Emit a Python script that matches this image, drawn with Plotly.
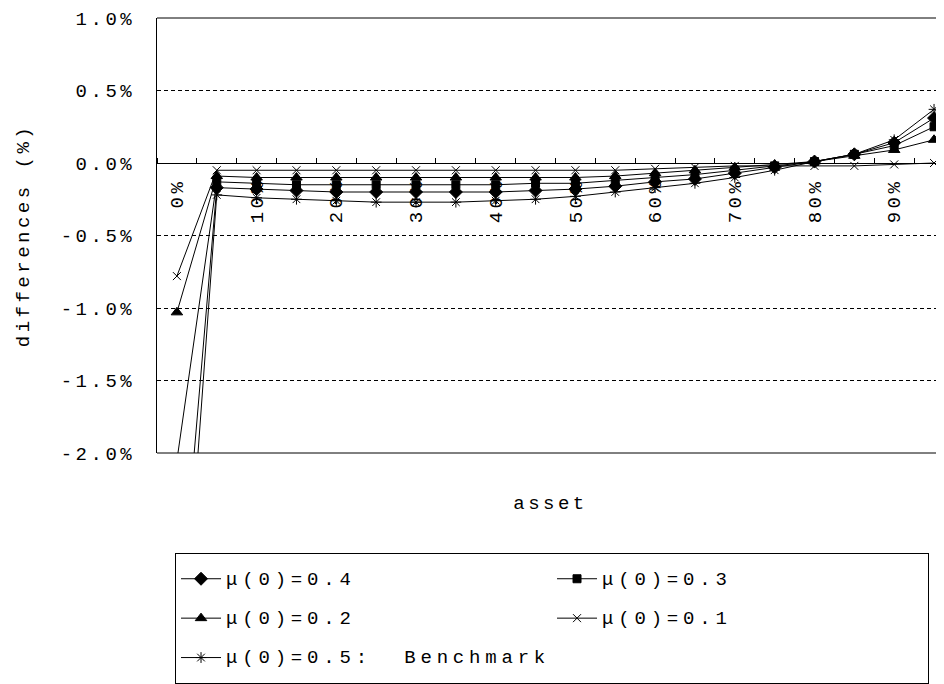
import plotly.graph_objects as go

categories = ["0%", "5%", "10%", "15%", "20%", "25%", "30%", "35%", "40%", "45%",
              "50%", "55%", "60%", "65%", "70%", "75%", "80%", "85%", "90%", "95%"]

mu04 = [-3.40, -0.17, -0.18, -0.19, -0.20, -0.20, -0.20, -0.20, -0.20, -0.19,
        -0.18, -0.16, -0.13, -0.11, -0.07, -0.03, 0.01, 0.06, 0.14, 0.31]
mu03 = [-2.05, -0.13, -0.14, -0.15, -0.15, -0.15, -0.15, -0.15, -0.15, -0.14,
        -0.14, -0.12, -0.10, -0.08, -0.05, -0.02, 0.01, 0.06, 0.12, 0.25]
mu02 = [-1.03, -0.09, -0.10, -0.10, -0.10, -0.10, -0.10, -0.10, -0.10, -0.10,
        -0.10, -0.09, -0.07, -0.05, -0.03, -0.01, 0.01, 0.05, 0.09, 0.16]
mu01 = [-0.78, -0.05, -0.05, -0.05, -0.05, -0.05, -0.05, -0.05, -0.05, -0.05,
        -0.05, -0.05, -0.04, -0.03, -0.02, -0.02, -0.02, -0.02, -0.01, 0.00]
mu05 = [-4.00, -0.22, -0.24, -0.25, -0.26, -0.27, -0.27, -0.27, -0.26, -0.25,
        -0.23, -0.20, -0.17, -0.14, -0.10, -0.05, 0.01, 0.06, 0.16, 0.37]

series_names = ["μ(0)=0.4", "μ(0)=0.3", "μ(0)=0.2", "μ(0)=0.1", "μ(0)=0.5:  Benchmark"]
series_values = [mu04, mu03, mu02, mu01, mu05]
symbols = ["diamond", "square", "triangle-up", "x-thin-open", "asterisk-open"]
sizes = [10, 8, 10, 8, 9]

y_tickvals = [-2.0, -1.5, -1.0, -0.5, 0.0, 0.5, 1.0]
y_ticktext = ["-2.0%", "-1.5%", "-1.0%", "-0.5%", "0.0%", "0.5%", "1.0%"]

FONT = "Liberation Mono"


def sp(t, extra="", ls=3.5):
    return f'<span style="letter-spacing:{ls}px{extra}">{t}</span>'


xs = list(range(len(categories)))

fig = go.Figure()
for name, vals, sym, sz in zip(series_names, series_values, symbols, sizes):
    fig.add_trace(go.Scatter(
        x=xs, y=vals, mode="lines+markers",
        name=sp(name, ";font-size:19px;baseline-shift:5px", ls=4.8),
        line=dict(color="black", width=1),
        marker=dict(symbol=sym, size=sz, color="black",
                    line=dict(color="black", width=1)),
        cliponaxis=True,
    ))

fig.update_layout(
    width=944, height=684,
    margin=dict(l=149, r=8, t=10, b=239, autoexpand=False),
    paper_bgcolor="white", plot_bgcolor="white",
    font=dict(family=FONT, size=19, color="black"),
    showlegend=True,
    legend=dict(
        orientation="h",
        x=0.0229, xanchor="left",
        y=-0.230, yanchor="top",
        entrywidth=321, entrywidthmode="pixels",
        bordercolor="black", borderwidth=1, bgcolor="white",
        font=dict(family=FONT, size=28, color="black"),
        itemwidth=40,
    ),
    xaxis=dict(
        range=[-0.5, 19.25],
        tickmode="array",
        tickvals=xs[::2],
        ticktext=[sp(c) for c in categories[::2]],
        tickangle=-90,
        ticks="",
        minor=dict(ticks="inside", tick0=0.5, dtick=1, ticklen=5,
                   tickcolor="black", tickwidth=1, showgrid=False),
        showline=True, linecolor="black", linewidth=1,
        showgrid=False, zeroline=False,
        anchor="free", position=2 / 3,
        ticklabelstandoff=7,
        layer="below traces",
        automargin=False,
        tickfont=dict(family=FONT, size=19),
        title=dict(text=sp("asset"), standoff=273,
                   font=dict(family=FONT, size=19)),
    ),
    yaxis=dict(
        range=[-2.0, 1.0],
        domain=[0, 1],
        tickmode="array",
        tickvals=y_tickvals,
        ticktext=[sp(t) for t in y_ticktext],
        ticks="inside", ticklen=4, tickcolor="black",
        showline=True, linecolor="black", linewidth=1,
        showgrid=True, gridcolor="black", gridwidth=1, griddash="4px,3px",
        zeroline=False,
        automargin=False,
        tickfont=dict(family=FONT, size=19),
        ticklabelstandoff=17,
        title=dict(text=sp("differences (%)"), standoff=26,
                   font=dict(family=FONT, size=19)),
    ),
    shapes=[
        dict(type="line", xref="paper", yref="paper", x0=0, x1=1.02, y0=1, y1=1,
             line=dict(color="black", width=1)),
        dict(type="line", xref="paper", yref="paper", x0=0, x1=1.02, y0=0, y1=0,
             line=dict(color="black", width=1)),
    ],
)

fig.write_html("out.html")
